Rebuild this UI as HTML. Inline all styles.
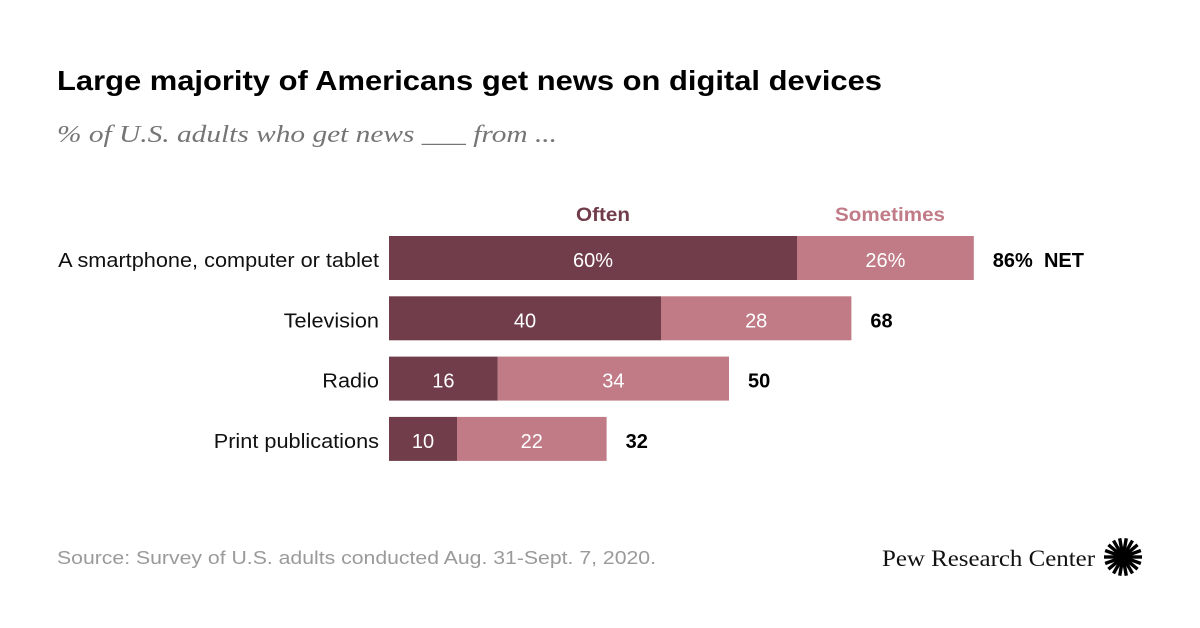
<!DOCTYPE html>
<html><head><meta charset="utf-8"><style>
html,body{margin:0;padding:0;background:#fff;}
svg{display:block;font-family:"Liberation Sans",sans-serif;}
</style></head><body>
<svg id="chart" width="1200" height="628" viewBox="0 0 1200 628" xmlns="http://www.w3.org/2000/svg">
<rect width="1200" height="628" fill="#fff"/>
<text x="57" y="90" font-size="28" font-weight="bold" fill="#000" textLength="825" lengthAdjust="spacingAndGlyphs">Large majority of Americans get news on digital devices</text>
<text x="57" y="142" font-family="Liberation Serif,serif" font-style="italic" font-size="24" fill="#757575" textLength="500" lengthAdjust="spacingAndGlyphs">% of U.S. adults who get news ___ from ...</text>
<text x="576" y="221" font-size="19" font-weight="bold" fill="#713d4a" textLength="54" lengthAdjust="spacingAndGlyphs">Often</text>
<text x="835" y="221" font-size="19" font-weight="bold" fill="#c07b87" textLength="110" lengthAdjust="spacingAndGlyphs">Sometimes</text>
<g id="bars"></g>
<text x="57" y="564" font-size="18" fill="#9a9a9a" textLength="599" lengthAdjust="spacingAndGlyphs">Source: Survey of U.S. adults conducted Aug. 31-Sept. 7, 2020.</text>
<text x="882" y="566" font-family="Liberation Serif,serif" font-size="23" fill="#111" textLength="213" lengthAdjust="spacingAndGlyphs">Pew Research Center</text>
<g id="logo"></g>
</svg>
<script>
const categories = ["A smartphone, computer or tablet","Television","Radio","Print publications"];
const often = [60,40,16,10];
const sometimes = [26,28,34,22];
const netLabels = ["86%  NET","68","50","32"];
const oftenLabels = ["60%","40","16","10"];
const sometimesLabels = ["26%","28","34","22"];

const NS="http://www.w3.org/2000/svg";
const x0=389, scale=6.8;
const xPos=v=>x0+v*scale;
const rowY=i=>236+i*60.3;
const barH=44;
const g=document.getElementById('bars');
function mk(tag,attrs,txt){const e=document.createElementNS(NS,tag);for(const k in attrs)e.setAttribute(k,attrs[k]);if(txt!==undefined)e.textContent=txt;g.appendChild(e);return e;}
function widen(el,f){const w=el.getComputedTextLength();el.setAttribute('textLength',w*f);el.setAttribute('lengthAdjust','spacingAndGlyphs');}
categories.forEach((c,i)=>{
  const y=rowY(i), cy=y+barH/2+7;
  const lab=mk('text',{x:379,y:cy+2,'font-size':20,fill:'#111','text-anchor':'end'},c);
  
  
  widen(lab,1.085);
  const b1=mk('rect',{x:xPos(0),y:y,width:xPos(often[i])-xPos(0),height:barH,fill:'#713d4a'});
  
  
  const b2=mk('rect',{x:xPos(often[i]),y:y,width:xPos(often[i]+sometimes[i])-xPos(often[i]),height:barH,fill:'#c07b87'});
  
  
  const t1=mk('text',{x:(xPos(0)+xPos(often[i]))/2,y:cy+2,'font-size':20,fill:'#fff','text-anchor':'middle'},oftenLabels[i]);
  
  
  const t2=mk('text',{x:(xPos(often[i])+xPos(often[i]+sometimes[i]))/2,y:cy+2,'font-size':20,fill:'#fff','text-anchor':'middle'},sometimesLabels[i]);
  
  
  const t3=mk('text',{x:xPos(often[i]+sometimes[i])+19,y:cy+2,'font-size':20,'font-weight':'bold',fill:'#000'},netLabels[i]);
  t3.setAttribute('style','white-space:pre');
  
  
});
const logo=document.getElementById('logo');
const cx=1123, cyl=557;
for(let k=0;k<18;k++){
  const a=k*Math.PI/9;
  const l=document.createElementNS(NS,'line');
  l.setAttribute('x1',cx+5*Math.cos(a));l.setAttribute('y1',cyl+5*Math.sin(a));
  l.setAttribute('x2',cx+19*Math.cos(a));l.setAttribute('y2',cyl+19*Math.sin(a));
  l.setAttribute('stroke','#000');l.setAttribute('stroke-width','3.4');
  logo.appendChild(l);
}
const dot=document.createElementNS(NS,'circle');
dot.setAttribute('cx',cx);dot.setAttribute('cy',cyl);dot.setAttribute('r',6);dot.setAttribute('fill','#000');
logo.appendChild(dot);
</script>
</body></html>
